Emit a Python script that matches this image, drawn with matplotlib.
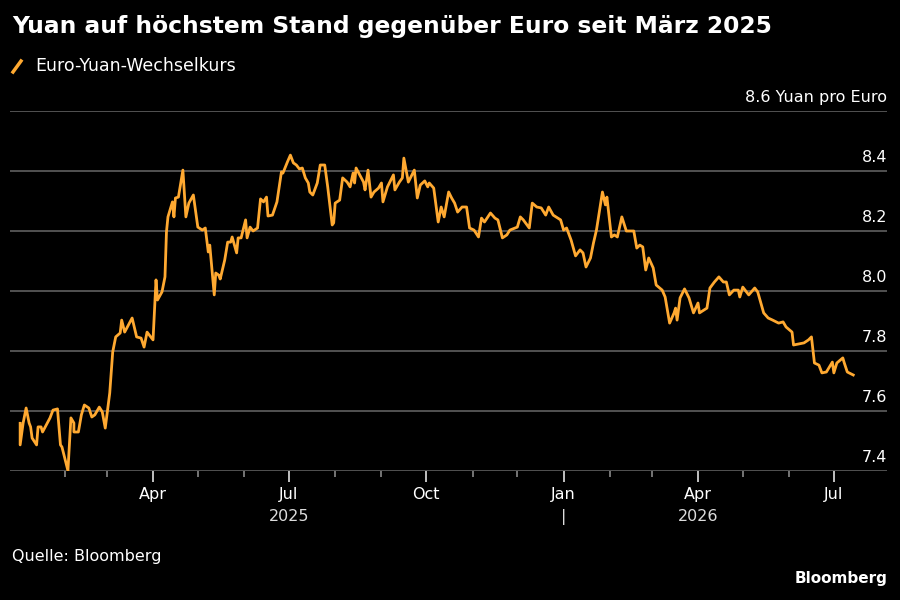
import matplotlib.pyplot as plt
import matplotlib.transforms as mtransforms
from matplotlib.lines import Line2D
import pandas as pd

# Euro-Yuan rate (days since 2025-01-01, value)
days = [1, 1, 3, 5, 7, 8, 9, 12, 13, 15, 16, 21, 23, 26, 28, 29, 33, 35, 37, 37,
        40, 42, 44, 47, 49, 51, 54, 56, 58, 61, 63, 65, 68, 69, 71, 76, 79, 82, 84, 86,
        90, 92, 93, 96, 98, 99, 100, 103, 104, 105, 107, 110, 112, 114, 117, 120, 123, 125, 127, 128,
        131, 132, 134, 135, 138, 140, 142, 143, 146, 147, 149, 152, 153, 155, 157, 160, 162, 164, 166, 167,
        170, 173, 176, 177, 180, 182, 184, 186, 188, 190, 192, 194, 195, 197, 200, 202, 205, 207, 210, 211,
        212, 215, 217, 220, 222, 224, 225, 226, 231, 232, 234, 236, 238, 241, 243, 244, 247, 251, 252, 255,
        257, 258, 261, 265, 267, 269, 272, 274, 275, 278, 281, 283, 285, 288, 290, 292, 294, 297, 300, 302,
        305, 308, 310, 312, 316, 319, 321, 324, 327, 329, 334, 336, 338, 342, 344, 347, 350, 353, 355, 358,
        363, 365, 367, 370, 373, 376, 378, 380, 383, 385, 387, 391, 393, 394, 397, 399, 401, 404, 407, 412,
        414, 416, 418, 420, 422, 425, 427, 431, 433, 436, 439, 440, 441, 443, 446, 449, 452, 455, 456, 461,
        463, 466, 469, 472, 474, 476, 479, 482, 483, 485, 489, 493, 495, 499, 502, 505, 509, 512, 514, 518,
        519, 526, 529, 531, 533, 536, 538, 541, 545, 546, 548, 552, 553, 555, 559]
rate = [7.559, 7.487, 7.560, 7.610, 7.560, 7.547, 7.510, 7.487, 7.547, 7.547,
        7.530, 7.577, 7.603, 7.607, 7.487, 7.480, 7.401, 7.577, 7.560, 7.530,
        7.530, 7.587, 7.620, 7.610, 7.580, 7.587, 7.613, 7.597, 7.543, 7.660,
        7.797, 7.847, 7.860, 7.903, 7.863, 7.910, 7.847, 7.843, 7.813, 7.863,
        7.837, 8.037, 7.970, 7.997, 8.047, 8.197, 8.247, 8.297, 8.247, 8.310,
        8.313, 8.403, 8.247, 8.293, 8.320, 8.213, 8.203, 8.210, 8.130, 8.153,
        7.987, 8.060, 8.053, 8.040, 8.103, 8.163, 8.163, 8.180, 8.127, 8.177,
        8.177, 8.237, 8.177, 8.213, 8.200, 8.210, 8.307, 8.297, 8.313, 8.250,
        8.253, 8.297, 8.397, 8.393, 8.430, 8.453, 8.427, 8.420, 8.407, 8.410,
        8.377, 8.360, 8.330, 8.320, 8.360, 8.420, 8.420, 8.347, 8.220, 8.227,
        8.293, 8.303, 8.377, 8.363, 8.347, 8.393, 8.360, 8.410, 8.363, 8.337,
        8.403, 8.313, 8.330, 8.343, 8.360, 8.297, 8.347, 8.387, 8.337, 8.363,
        8.377, 8.443, 8.363, 8.403, 8.310, 8.353, 8.367, 8.347, 8.360, 8.343,
        8.230, 8.280, 8.247, 8.330, 8.310, 8.293, 8.263, 8.280, 8.280, 8.210,
        8.203, 8.180, 8.243, 8.230, 8.260, 8.243, 8.237, 8.177, 8.187, 8.203,
        8.213, 8.247, 8.237, 8.210, 8.293, 8.280, 8.277, 8.253, 8.280, 8.253,
        8.237, 8.203, 8.210, 8.170, 8.117, 8.137, 8.127, 8.080, 8.110, 8.160,
        8.203, 8.330, 8.287, 8.313, 8.180, 8.187, 8.180, 8.247, 8.200, 8.200,
        8.143, 8.153, 8.147, 8.070, 8.110, 8.077, 8.020, 8.003, 7.980, 7.893,
        7.927, 7.943, 7.903, 7.977, 8.007, 7.977, 7.927, 7.960, 7.927, 7.943,
        8.010, 8.030, 8.047, 8.030, 8.030, 7.987, 8.003, 8.003, 7.980, 8.013,
        7.987, 8.010, 7.997, 7.927, 7.910, 7.903, 7.893, 7.897, 7.880, 7.863,
        7.820, 7.827, 7.837, 7.847, 7.760, 7.753, 7.727, 7.730, 7.763, 7.727,
        7.760, 7.777, 7.760, 7.730, 7.720]

y_ticks = [7.4, 7.6, 7.8, 8.0, 8.2, 8.4, 8.6]
quarter_labels = ["Apr", "Jul", "Oct", "Jan", "Apr", "Jul"]
quarter_dates = ["2025-04-01", "2025-07-01", "2025-10-01", "2026-01-01", "2026-04-01", "2026-07-01"]
year_marks = {"2025-07-01": "2025", "2026-01-01": "|", "2026-04-01": "2026"}

start = pd.Timestamp("2025-01-01")
dates = start + pd.to_timedelta(days, unit="D")

plt.rcParams['font.family'] = ['DejaVu Sans']
fig = plt.figure(figsize=(9, 6), dpi=100, facecolor="black")
ax = fig.add_axes([10 / 900, 129 / 600, 877 / 900, 360 / 600], facecolor="black")

ax.plot(dates, rate, color="#ffa931", lw=2.0, solid_joinstyle="round", zorder=3)

ax.set_ylim(7.4, 8.6)
ax.set_xlim(start - pd.Timedelta(days=5.8), start + pd.Timedelta(days=581.6))

for v in y_ticks:
    ax.axhline(v, color="#5f5f5f", lw=1.2, zorder=1)
for s in ax.spines.values():
    s.set_visible(False)
ax.set_yticks([])

# y labels sit on top of the grid lines, at the right edge
lab_tr = mtransforms.offset_copy(ax.get_yaxis_transform(), fig=fig, x=0, y=9, units="dots")
for v in y_ticks:
    txt = "%.1f" % v
    if v == y_ticks[-1]:
        txt = txt + " Yuan pro Euro"
    ax.text(1.0, v, txt, transform=lab_tr, ha="right", va="baseline",
            color="white", fontsize=11.5)

# x axis: quarters labelled, months as small ticks (Feb 2025 .. Jun 2026)
qd = pd.to_datetime(quarter_dates)
months = pd.date_range("2025-02-01", "2026-06-01", freq="MS")
ax.set_xticks(qd)
ax.set_xticklabels(quarter_labels)
ax.set_xticks([m for m in months if m not in qd], minor=True)
ax.tick_params(axis="x", which="major", length=8, width=1.3, color="#d0d0d0",
               labelcolor="white", labelsize=11.5, pad=3.5)
ax.tick_params(axis="x", which="minor", length=4, width=1.2, color="#8a8a8a")

yr_tr = mtransforms.offset_copy(ax.get_xaxis_transform(), fig=fig, x=0, y=-50, units="dots")
for d, t in year_marks.items():
    ax.text(pd.Timestamp(d), 0, t, transform=yr_tr, ha="center", va="baseline",
            color="#dcdcdc", fontsize=11.5)

fig.text(12 / 900, 1 - 33 / 600, "Yuan auf höchstem Stand gegenüber Euro seit März 2025",
         color="white", fontsize=16.8, fontweight="bold", va="baseline")
fig.add_artist(Line2D([13 / 900, 21 / 900], [1 - 72 / 600, 1 - 61 / 600],
                      color="#ffa931", lw=2.5, transform=fig.transFigure))
fig.text(35 / 900, 1 - 71 / 600, "Euro-Yuan-Wechselkurs", color="white",
         fontsize=12.5, va="baseline")
fig.text(12 / 900, 1 - 561 / 600, "Quelle: Bloomberg", color="white",
         fontsize=11.5, va="baseline")
fig.text(888 / 900, 1 - 583 / 600, "Bloomberg", color="white", fontsize=11,
         fontweight="bold", ha="right", va="baseline")

fig.savefig("out.png", dpi=100, facecolor="black")
